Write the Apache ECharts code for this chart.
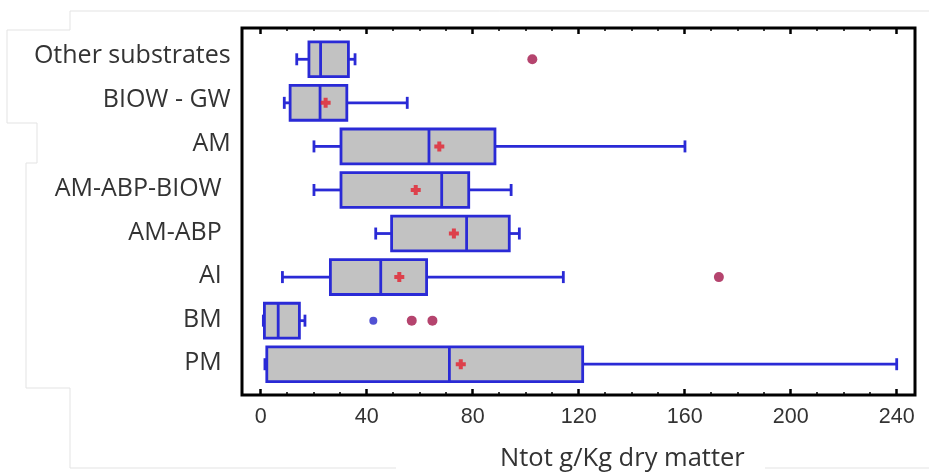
<!DOCTYPE html>
<html><head><meta charset="utf-8">
<script src="https://cdn.jsdelivr.net/npm/echarts@6/dist/echarts.min.js"></script>
<style>html,body{margin:0;padding:0;background:#fff}#c{width:929px;height:475px}</style>
</head><body><div id="c"></div>
<script>
// ---- data ----
const categories = ['Other substrates', 'BIOW - GW', 'AM', 'AM-ABP-BIOW', 'AM-ABP', 'AI', 'BM', 'PM'];
const whiskerLow  = [13.6,  8.9,  20.1, 20.1, 43.4,  8.2,  1.0,   1.6];
const q1          = [18.2, 11.1,  30.3, 30.3, 49.4, 26.3,  1.4,   2.3];
const median      = [22.6, 22.4,  63.5, 68.3, 77.7, 45.3,  6.6,  71.2];
const q3          = [33.1, 32.5,  88.4, 78.5, 93.8, 62.6, 14.6, 121.5];
const whiskerHigh = [35.6, 55.3, 160.1, 94.5, 97.6, 114.2, 16.7, 240.0];
const means       = [null, 24.5,  67.4, 58.5, 72.9, 52.3, null,  75.5];
const farOutliers  = [[102.5, 'Other substrates'], [172.9, 'AI'], [57.0, 'BM'], [64.8, 'BM']];
const nearOutliers = [[42.5, 'BM']];
const xTicks = [0, 40, 80, 120, 160, 200, 240];
const xTitle = 'Ntot g/Kg dry matter';

// ---- styles ----
const BLUE = '#2a2ad6';
const GRAY = '#c2c2c2';
const xMin = xTicks[0], xMax = xTicks[xTicks.length - 1], xStep = xTicks[1] - xTicks[0];

const boxData = categories.map((c, i) => [i, whiskerLow[i], q1[i], median[i], q3[i], whiskerHigh[i]]);
const meanData = [];
means.forEach((v, i) => { if (v != null) meanData.push([v, i]); });
const idx = name => categories.indexOf(name);
const farData = farOutliers.map(p => [p[0], idx(p[1])]);
const nearData = nearOutliers.map(p => [p[0], idx(p[1])]);

const tickCommon = {
  axisLine: { show: false },
  axisTick: { show: true, inside: true, length: 6, lineStyle: { color: '#000', width: 2.5 } },
  minorTick: { show: true, splitNumber: 4, length: 3, lineStyle: { color: '#000', width: 1.5 } },
  splitLine: { show: false },
  minorSplitLine: { show: false }
};

const lblRight = [0, 0, 0, 9, 9, 9, 9, 9];

const chart = echarts.init(document.getElementById('c'), null, { renderer: 'canvas' });
chart.setOption({
  animation: false,
  backgroundColor: '#fff',
  title: {
    text: xTitle, left: 500, top: 446, padding: 0,
    textStyle: { fontFamily: 'Open Sans', fontSize: 25.5, fontWeight: 'normal', color: '#333' }
  },
  grid: [
    { left: 260.7, top: 28, width: 636, height: 367 },
    { left: 260.7, top: 37.5, width: 636, height: 348.5 },
    { left: 242, top: 28, width: 673, height: 367, show: true, borderColor: '#000', borderWidth: 3, backgroundColor: 'transparent', z: 10 }
  ],
  xAxis: [
    Object.assign({ gridIndex: 0, type: 'value', min: xMin, max: xMax, interval: xStep, position: 'bottom',
      axisLabel: { fontFamily: 'Liberation Sans', fontSize: 21.5, color: '#333', margin: 11 } }, tickCommon),
    Object.assign({ gridIndex: 0, type: 'value', min: xMin, max: xMax, interval: xStep, position: 'top',
      axisLabel: { show: false } }, tickCommon),
    { gridIndex: 1, type: 'value', min: xMin, max: xMax, show: false },
    { gridIndex: 2, type: 'value', show: false }
  ],
  yAxis: [
    { gridIndex: 0, type: 'value', show: false },
    { gridIndex: 1, type: 'category', inverse: true, data: categories,
      axisLine: { show: false }, axisTick: { show: false }, splitLine: { show: false },
      axisLabel: {
        margin: 30, interval: 0,
        formatter: (v, i) => '{' + (lblRight[i] ? 'b' : 'a') + '|' + v + '}',
        rich: {
          a: { fontFamily: 'Open Sans', fontSize: 25, color: '#333', padding: [0, 0, 6, 0] },
          b: { fontFamily: 'Open Sans', fontSize: 25, color: '#333', padding: [0, 9, 2, 0] }
        }
      } },
    { gridIndex: 2, type: 'value', show: false }
  ],
  graphic: [
    { type: 'polyline', silent: true, z: -1,
      shape: { points: [[929, 11], [70, 11], [70, 30], [7, 30], [7, 123], [37, 123], [37, 163], [26, 163], [26, 388], [70, 388], [70, 468], [396, 468]] },
      style: { stroke: '#e3e3e3', lineWidth: 1, fill: null } },
    { type: 'line', silent: true, z: -1, shape: { x1: 765, y1: 468, x2: 929, y2: 468 }, style: { stroke: '#e3e3e3', lineWidth: 1 } }
  ],
  series: [
    {
      type: 'custom', xAxisIndex: 2, yAxisIndex: 1, data: boxData,
      encode: { x: [1, 2, 3, 4, 5], y: 0 },
      renderItem: function (params, api) {
        const i = api.value(0);
        const lo = api.coord([api.value(1), i]);
        const a = api.coord([api.value(2), i]);
        const m = api.coord([api.value(3), i]);
        const b = api.coord([api.value(4), i]);
        const hi = api.coord([api.value(5), i]);
        const h = api.size([0, 1])[1] * 0.8;
        const y = a[1];
        const cap = 6;
        const ls = { stroke: BLUE, lineWidth: 2.8 };
        return {
          type: 'group', children: [
            { type: 'line', shape: { x1: lo[0], y1: y, x2: a[0], y2: y }, style: ls },
            { type: 'line', shape: { x1: b[0], y1: y, x2: hi[0], y2: y }, style: ls },
            { type: 'line', shape: { x1: lo[0], y1: y - cap, x2: lo[0], y2: y + cap }, style: ls },
            { type: 'line', shape: { x1: hi[0], y1: y - cap, x2: hi[0], y2: y + cap }, style: ls },
            { type: 'rect', shape: { x: a[0], y: y - h / 2, width: b[0] - a[0], height: h }, style: { fill: GRAY, stroke: BLUE, lineWidth: 2.8 } },
            { type: 'line', shape: { x1: m[0], y1: y - h / 2, x2: m[0], y2: y + h / 2 }, style: ls }
          ]
        };
      }
    },
    {
      type: 'scatter', xAxisIndex: 2, yAxisIndex: 1, data: meanData, z: 5,
      symbol: 'path://M3,0H7V3H10V7H7V10H3V7H0V3H3Z', symbolSize: 10,
      itemStyle: { color: '#e41f2d' }
    },
    {
      type: 'scatter', xAxisIndex: 2, yAxisIndex: 1, data: farData, z: 5,
      symbol: 'circle', symbolSize: 10, itemStyle: { color: '#a3154a' }
    },
    {
      type: 'scatter', xAxisIndex: 2, yAxisIndex: 1, data: nearData, z: 5,
      symbol: 'circle', symbolSize: 8, itemStyle: { color: '#2525c8' }
    }
  ]
});
</script>
</body></html>
